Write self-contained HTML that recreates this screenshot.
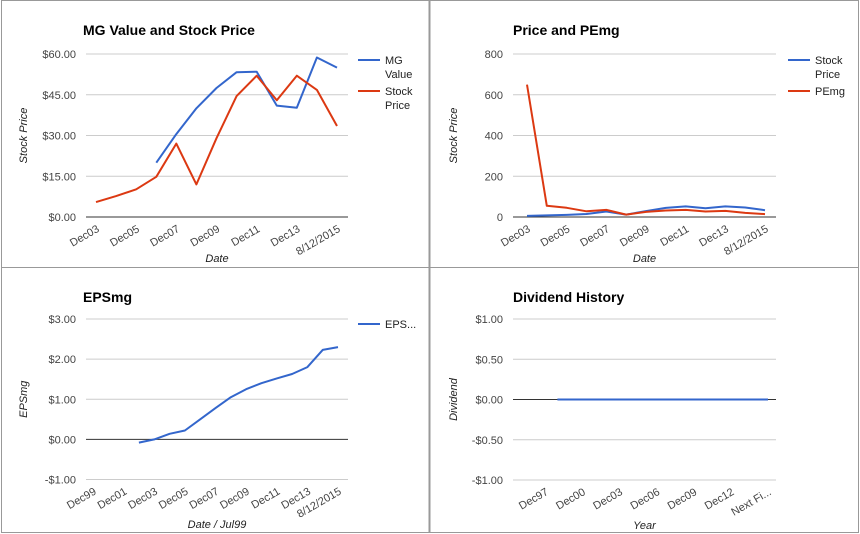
<!DOCTYPE html>
<html><head><meta charset="utf-8">
<style>
body{margin:0;background:#fff;width:860px;height:534px;overflow:hidden;font-family:"Liberation Sans",Arial,sans-serif}
svg{display:block}
.title{font-weight:bold;font-size:14px;fill:#000}
.tick{font-size:11px;fill:#444}
.axt{font-size:11px;fill:#222;font-style:italic}
.leg{font-size:11px;fill:#222}
</style></head>
<body>
<svg id="s" width="860" height="534">
<rect x="0" y="0" width="860" height="534" fill="#fff"/>
<g stroke="#999" fill="none">
<rect x="1.5" y="0.5" width="857" height="532" stroke-width="1"/>
<line x1="429.5" y1="0" x2="429.5" y2="533" stroke-width="2"/>
<line x1="1" y1="267.5" x2="858" y2="267.5" stroke-width="1"/>
</g>
</svg>
<script>
// ---- Chart 1 data
const c1Cats=["Dec03","","Dec05","","Dec07","","Dec09","","Dec11","","Dec13","","8/12/2015"];
const c1MG=[null,null,null,20,30.5,40,47.5,53.3,53.5,41,40.2,58.7,55];
const c1Stock=[5.5,7.7,10.2,14.8,27,12,29,44.5,52,43,52,46.8,33.5];
const c1Ticks=[0,15,30,45,60];
const c1TickLabels=["$0.00","$15.00","$30.00","$45.00","$60.00"];
// ---- Chart 2 data
const c2Cats=["Dec03","","Dec05","","Dec07","","Dec09","","Dec11","","Dec13","","8/12/2015"];
const c2Stock=[5.5,7.7,10.2,14.8,27,12,29,44.5,52,43,52,46.8,33.5];
const c2PE=[650,55,45,28,35,12,25,32,35,27,30,20,14];
const c2Ticks=[0,200,400,600,800];
const c2TickLabels=["0","200","400","600","800"];
// ---- Chart 3 data
const c3Cats=["Dec99","","Dec01","","Dec03","","Dec05","","Dec07","","Dec09","","Dec11","","Dec13","","8/12/2015"];
const c3EPS=[null,null,null,-0.08,0.0,0.14,0.22,0.5,0.78,1.05,1.25,1.4,1.52,1.63,1.8,2.23,2.3];
const c3Ticks=[-1,0,1,2,3];
const c3TickLabels=["-$1.00","$0.00","$1.00","$2.00","$3.00"];
// ---- Chart 4 data
const c4Cats=["Dec97","","","Dec00","","","Dec03","","","Dec06","","","Dec09","","","Dec12","","","Next Fi..."];
const c4Div=[null,0,0,0,0,0,0,0,0,0,0,0,0,0,0,0,0,0,0];
const c4Ticks=[-1,-0.5,0,0.5,1];
const c4TickLabels=["-$1.00","-$0.50","$0.00","$0.50","$1.00"];

const NS="http://www.w3.org/2000/svg";
const svg=document.getElementById('s');
function mk(tag,attrs,parent){const e=document.createElementNS(NS,tag);for(const k in attrs)e.setAttribute(k,attrs[k]);(parent||svg).appendChild(e);return e;}

function chart(o){
  const g=mk('g',{});
  
  
  const yS=v=>o.y0+(v-o.ymin)/(o.ymax-o.ymin)*(o.y1-o.y0);
  const xS=i=>o.xa+i*(o.xb-o.xa)/(o.cats.length-1);
  const t=mk('text',{x:o.px+83,y:o.py+35,class:'title'},g);t.textContent=o.title;
  
  
  o.ticks.forEach((v,i)=>{
    const y=yS(v);
    const gl=mk('line',{x1:o.gx0,x2:o.gx1,y1:y,y2:y,stroke:(v===o.base)?'#333':'#ccc','stroke-width':1},g);
    
    
    const tl=mk('text',{x:o.gx0-10,y:y+4,'text-anchor':'end',class:'tick'},g);tl.textContent=o.tickLabels[i];
    
    
  });
  o.cats.forEach((c,i)=>{
    if(!c)return;
    const x=xS(i)+4,y=o.y0+14;
    const tl=mk('text',{x:x,y:y,'text-anchor':'end',class:'tick',transform:`rotate(-30 ${x} ${y})`},g);tl.textContent=c;
    
    
  });
  const yt=mk('text',{x:0,y:0,'text-anchor':'middle',class:'axt',transform:`translate(${o.px+27},${(o.y0+o.y1)/2}) rotate(-90)`},g);yt.textContent=o.ytitle;
  
  
  const xt=mk('text',{x:(o.gx0+o.gx1)/2,y:o.py+o.xtY,'text-anchor':'middle',class:'axt'},g);xt.textContent=o.xtitle;
  
  
  o.series.forEach((s,si)=>{
    let d='',pen=false;
    s.data.forEach((v,i)=>{if(v===null){pen=false;return;}d+=(pen?'L':'M')+xS(i).toFixed(1)+','+yS(v).toFixed(1);pen=true;});
    const p=mk('path',{d:d,fill:'none',stroke:s.color,'stroke-width':2,'stroke-linejoin':'round'},g);
    
    
    if(s.leg){
      const ly=o.py+s.legY;
      const ll=mk('line',{x1:o.px+358,x2:o.px+380,y1:ly,y2:ly,stroke:s.color,'stroke-width':2},g);
      
      
      s.leg.forEach((w,k)=>{const lt=mk('text',{x:o.px+385,y:ly+4+k*14,class:'leg'},g);lt.textContent=w;
        
        });
    }
  });
}
chart({name:'mg-value-chart',title:'MG Value and Stock Price',px:0,py:0,cats:c1Cats,ymin:0,ymax:60,y0:217,y1:54,xa:96,xb:337,gx0:86,gx1:348,base:0,
  ticks:c1Ticks,tickLabels:c1TickLabels,ytitle:'Stock Price',xtitle:'Date',xtY:262,
  series:[{data:c1MG,color:'#3366cc',leg:['MG','Value'],legY:60},{data:c1Stock,color:'#dc3912',leg:['Stock','Price'],legY:91}]});
chart({name:'price-pemg-chart',title:'Price and PEmg',px:430,py:0,cats:c2Cats,ymin:0,ymax:800,y0:217,y1:54,xa:527,xb:765,gx0:513,gx1:776,base:0,
  ticks:c2Ticks,tickLabels:c2TickLabels,ytitle:'Stock Price',xtitle:'Date',xtY:262,
  series:[{data:c2Stock,color:'#3366cc',leg:['Stock','Price'],legY:60},{data:c2PE,color:'#dc3912',leg:['PEmg'],legY:91}]});
chart({name:'epsmg-chart',title:'EPSmg',px:0,py:267,cats:c3Cats,ymin:-1,ymax:3,y0:479.5,y1:319,xa:93,xb:338,gx0:86,gx1:348,base:0,
  ticks:c3Ticks,tickLabels:c3TickLabels,ytitle:'EPSmg',xtitle:'Date / Jul99',xtY:261,
  series:[{data:c3EPS,color:'#3366cc',leg:['EPS...'],legY:57}]});
chart({name:'dividend-chart',title:'Dividend History',px:430,py:267,cats:c4Cats,ymin:-1,ymax:1,y0:480,y1:319,xa:545,xb:768,gx0:513,gx1:776,base:0,
  ticks:c4Ticks,tickLabels:c4TickLabels,ytitle:'Dividend',xtitle:'Year',xtY:262,
  series:[{data:c4Div,color:'#3366cc'}]});
</script>
</body></html>
